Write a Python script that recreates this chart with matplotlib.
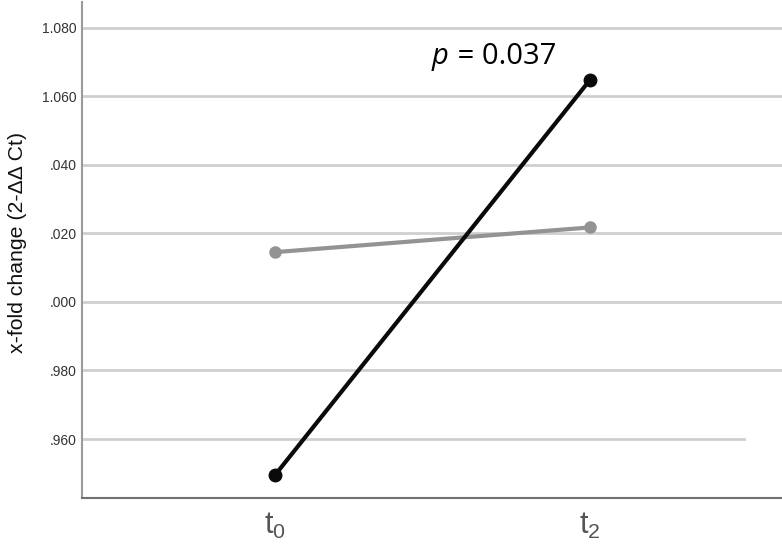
import matplotlib
matplotlib.use("Agg")
import matplotlib.pyplot as plt

plt.rcParams['font.family'] = ['Liberation Sans', 'DejaVu Sans']
plt.rcParams['mathtext.default'] = 'regular'

timepoints = ["t$_0$", "t$_2$"]
black_series = [0.9495, 1.0647]
grey_series = [1.0145, 1.0217]
ytick_values = [0.96, 0.98, 1.00, 1.02, 1.04, 1.06, 1.08]
ytick_labels = [".960", ".980", ".000", ".020", ".040", "1.060", "1.080"]
p_text = "= 0.037"

fig = plt.figure(figsize=(7.82, 5.52), dpi=100)
ax = fig.add_axes([0.1049, 0.0978, 0.8951, 0.8977])

x = list(range(len(timepoints)))
ax.set_xlim(-0.613, 1.61)
ax.set_ylim(0.9428, 1.0873)

for i, v in enumerate(ytick_values):
    xmax = 0.946 if i == 0 else 1.0
    ax.axhline(v, xmin=0, xmax=xmax, color="#cfcfcf", lw=2.0, zorder=1)

ax.plot(x, grey_series, color="#939393", lw=3, marker="o", ms=8, zorder=3)
ax.plot(x, black_series, color="#0a0a0a", lw=3, marker="o", ms=9, zorder=4)

ax.set_yticks(ytick_values)
ax.set_yticklabels(ytick_labels, fontsize=10, color="#333333")
ax.set_xticks(x)
ax.set_xticklabels(timepoints, fontsize=22, color="#555555")
ax.tick_params(axis="both", length=0)
ax.tick_params(axis="y", pad=4)
ax.tick_params(axis="x", pad=9)

for s in ["top", "right"]:
    ax.spines[s].set_visible(False)
ax.spines["left"].set_color("#9a9a9a")
ax.spines["left"].set_linewidth(1.5)
ax.spines["bottom"].set_color("#707070")
ax.spines["bottom"].set_linewidth(1.5)

ax.set_ylabel("x-fold change (2-ΔΔ Ct)", fontsize=15.3, color="#111111")
ax.yaxis.set_label_coords(-0.078, 0.516)

ax.text(0.5, 0.892, "p", transform=ax.transAxes, fontsize=21, style="italic",
        ha="left", va="center", family=["Open Sans", "DejaVu Sans"])
ax.text(0.525, 0.892, " " + p_text, transform=ax.transAxes, fontsize=21,
        ha="left", va="center", family=["Open Sans", "DejaVu Sans"])

fig.savefig("out.png", dpi=100)
